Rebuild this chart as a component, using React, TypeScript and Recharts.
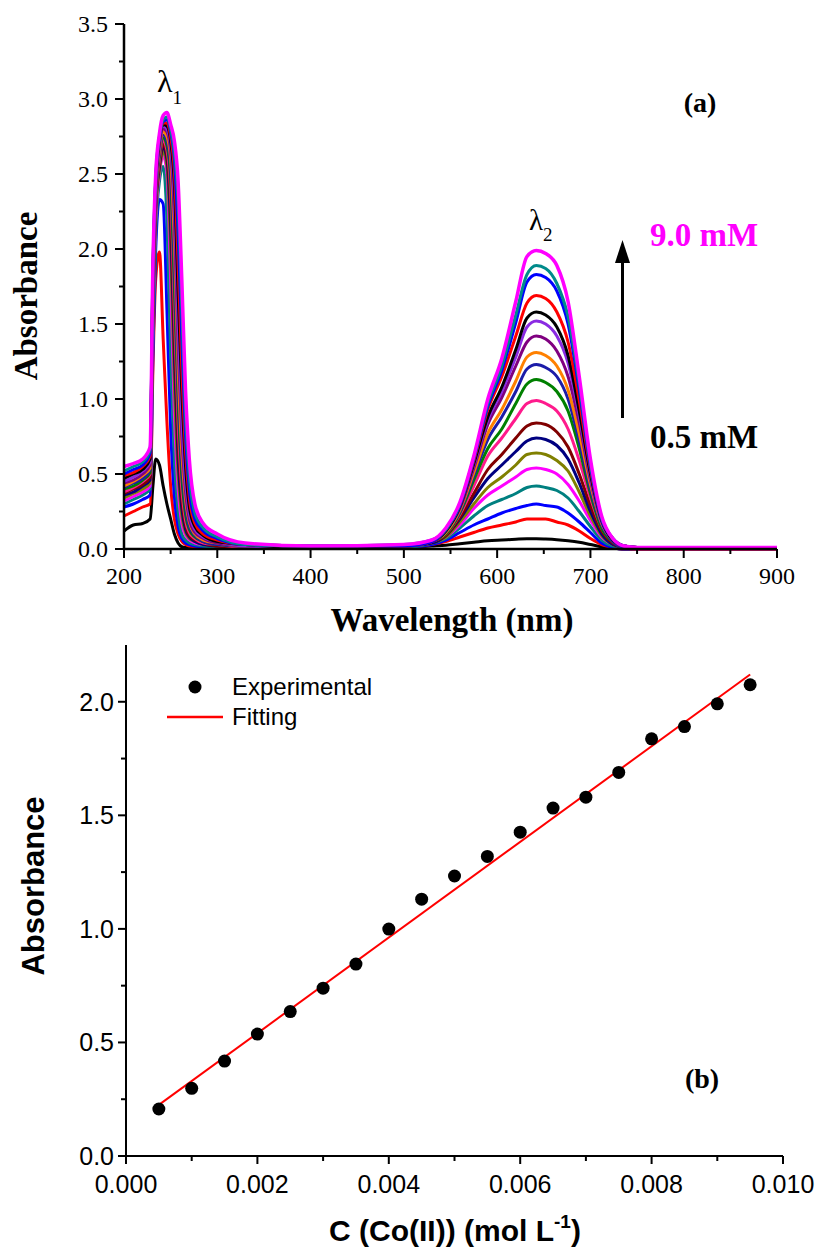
import React from 'react';
import { LineChart, Line, XAxis, YAxis, ScatterChart, Scatter } from 'recharts';

// ─── Panel (a): UV-Vis spectra ───────────────────────────────────────────────

const wavelengths = [
  200, 210, 220, 228, 231, 234, 238, 242, 246, 250, 254, 258, 262, 266, 270, 276, 285, 300, 330, 400, 500,
  530, 545, 560, 575, 590, 605, 620, 632, 642, 652, 664, 676, 688, 700, 712, 724, 736, 750, 800, 900,
];

// one array per Co(II) concentration, lowest first
const curve01 = [0.12, 0.16, 0.17, 0.2, 0.42, 0.6, 0.56, 0.42, 0.3, 0.2, 0.1, 0.04, 0.015, 0.01, 0.01, 0.01, 0.01, 0.01, 0.01, 0.01, 0.01,
  0.02, 0.025, 0.035, 0.045, 0.055, 0.06, 0.065, 0.068, 0.068, 0.066, 0.062, 0.055, 0.045, 0.03, 0.015, 0.005, 0, 0, 0, 0];
const curve02 = [0.22, 0.25, 0.28, 0.3, 1.2, 1.8, 1.98, 1.4, 0.85, 0.42, 0.2, 0.1, 0.05, 0.03, 0.02, 0.015, 0.01, 0.01, 0.01, 0.01, 0.01,
  0.03, 0.05, 0.08, 0.11, 0.14, 0.16, 0.18, 0.2, 0.2, 0.2, 0.18, 0.16, 0.12, 0.07, 0.03, 0.01, 0, 0, 0, 0];
const curve03 = [0.28, 0.3, 0.33, 0.36, 1.3, 2.0, 2.33, 2.3, 1.6, 0.8, 0.35, 0.15, 0.07, 0.04, 0.03, 0.02, 0.01, 0.01, 0.01, 0.01, 0.01,
  0.03, 0.06, 0.11, 0.16, 0.2, 0.24, 0.27, 0.29, 0.3, 0.29, 0.28, 0.24, 0.18, 0.11, 0.04, 0.01, 0, 0, 0, 0];
const curve04 = [0.3, 0.33, 0.36, 0.4, 1.4, 2.1, 2.45, 2.55, 2.2, 1.3, 0.6, 0.25, 0.1, 0.06, 0.04, 0.03, 0.02, 0.01, 0.01, 0.01, 0.01,
  0.04, 0.07, 0.14, 0.22, 0.29, 0.33, 0.37, 0.41, 0.42, 0.41, 0.39, 0.34, 0.25, 0.15, 0.06, 0.02, 0.01, 0, 0, 0];
const curve05 = [0.32, 0.35, 0.38, 0.42, 1.5, 2.2, 2.5, 2.62, 2.5, 1.8, 0.9, 0.4, 0.17, 0.09, 0.06, 0.04, 0.03, 0.02, 0.01, 0.01, 0.02,
  0.04, 0.08, 0.16, 0.27, 0.36, 0.42, 0.48, 0.53, 0.54, 0.53, 0.5, 0.43, 0.32, 0.19, 0.08, 0.03, 0.01, 0, 0, 0];
const curve06 = [0.34, 0.37, 0.4, 0.44, 1.55, 2.25, 2.52, 2.65, 2.55, 2.0, 1.1, 0.5, 0.22, 0.11, 0.07, 0.05, 0.03, 0.02, 0.01, 0.01, 0.02,
  0.04, 0.08, 0.18, 0.3, 0.41, 0.48, 0.56, 0.63, 0.64, 0.63, 0.59, 0.52, 0.38, 0.22, 0.09, 0.03, 0.01, 0, 0, 0];
const curve07 = [0.36, 0.38, 0.42, 0.46, 1.6, 2.28, 2.55, 2.68, 2.6, 2.15, 1.3, 0.6, 0.27, 0.13, 0.08, 0.05, 0.03, 0.02, 0.01, 0.01, 0.02,
  0.04, 0.09, 0.2, 0.34, 0.47, 0.56, 0.65, 0.72, 0.74, 0.73, 0.69, 0.6, 0.44, 0.25, 0.1, 0.03, 0.01, 0, 0, 0];
const curve08 = [0.37, 0.4, 0.43, 0.48, 1.62, 2.3, 2.57, 2.7, 2.63, 2.28, 1.45, 0.72, 0.33, 0.16, 0.09, 0.06, 0.04, 0.02, 0.01, 0.01, 0.02,
  0.05, 0.09, 0.21, 0.37, 0.53, 0.63, 0.74, 0.82, 0.84, 0.83, 0.78, 0.68, 0.5, 0.29, 0.12, 0.04, 0.01, 0, 0, 0];
const curve09 = [0.38, 0.41, 0.45, 0.5, 1.65, 2.32, 2.6, 2.72, 2.66, 2.38, 1.6, 0.85, 0.4, 0.19, 0.11, 0.07, 0.04, 0.03, 0.01, 0.01, 0.02,
  0.05, 0.1, 0.23, 0.42, 0.62, 0.74, 0.87, 0.97, 0.99, 0.97, 0.92, 0.8, 0.59, 0.34, 0.14, 0.05, 0.01, 0, 0, 0];
const curve10 = [0.4, 0.42, 0.46, 0.51, 1.68, 2.35, 2.62, 2.74, 2.69, 2.46, 1.75, 0.98, 0.48, 0.23, 0.13, 0.08, 0.05, 0.03, 0.02, 0.01, 0.02,
  0.05, 0.1, 0.24, 0.46, 0.67, 0.8, 0.97, 1.1, 1.13, 1.11, 1.05, 0.92, 0.67, 0.37, 0.14, 0.05, 0.01, 0.01, 0.01, 0.01];
const curve11 = [0.41, 0.44, 0.47, 0.53, 1.7, 2.37, 2.64, 2.76, 2.72, 2.53, 1.9, 1.1, 0.56, 0.28, 0.15, 0.09, 0.05, 0.03, 0.02, 0.01, 0.02,
  0.05, 0.11, 0.25, 0.49, 0.73, 0.88, 1.05, 1.2, 1.23, 1.21, 1.15, 1.0, 0.72, 0.4, 0.16, 0.05, 0.01, 0.01, 0.01, 0.01];
const curve12 = [0.42, 0.45, 0.49, 0.54, 1.72, 2.39, 2.66, 2.78, 2.75, 2.6, 2.05, 1.22, 0.64, 0.33, 0.18, 0.1, 0.06, 0.04, 0.02, 0.01, 0.02,
  0.05, 0.11, 0.26, 0.51, 0.77, 0.93, 1.12, 1.28, 1.31, 1.29, 1.22, 1.06, 0.77, 0.43, 0.17, 0.06, 0.02, 0.01, 0.01, 0.01];
const curve13 = [0.44, 0.46, 0.5, 0.56, 1.75, 2.4, 2.68, 2.8, 2.78, 2.65, 2.2, 1.35, 0.75, 0.38, 0.2, 0.11, 0.07, 0.04, 0.02, 0.01, 0.02,
  0.05, 0.12, 0.27, 0.54, 0.83, 1.01, 1.22, 1.38, 1.42, 1.4, 1.32, 1.15, 0.84, 0.46, 0.18, 0.06, 0.02, 0.01, 0.01, 0.01];
const curve14 = [0.45, 0.48, 0.52, 0.58, 1.78, 2.42, 2.7, 2.82, 2.8, 2.69, 2.33, 1.5, 0.88, 0.45, 0.24, 0.13, 0.08, 0.05, 0.02, 0.01, 0.02,
  0.05, 0.12, 0.28, 0.56, 0.86, 1.05, 1.28, 1.48, 1.52, 1.5, 1.42, 1.24, 0.89, 0.48, 0.18, 0.06, 0.02, 0.01, 0.01, 0.01];
const curve15 = [0.47, 0.5, 0.53, 0.6, 1.8, 2.43, 2.72, 2.83, 2.82, 2.72, 2.43, 1.7, 1.05, 0.55, 0.28, 0.15, 0.09, 0.05, 0.03, 0.01, 0.02,
  0.05, 0.12, 0.28, 0.57, 0.88, 1.08, 1.33, 1.54, 1.58, 1.56, 1.48, 1.29, 0.92, 0.5, 0.19, 0.06, 0.02, 0.01, 0.01, 0.01];
const curve16 = [0.49, 0.51, 0.55, 0.62, 1.82, 2.45, 2.73, 2.84, 2.84, 2.75, 2.52, 1.9, 1.2, 0.65, 0.34, 0.17, 0.1, 0.06, 0.03, 0.02, 0.02,
  0.05, 0.13, 0.29, 0.59, 0.93, 1.15, 1.42, 1.64, 1.69, 1.67, 1.58, 1.38, 0.99, 0.53, 0.2, 0.07, 0.02, 0.01, 0.01, 0.01];
const curve17 = [0.5, 0.53, 0.56, 0.64, 1.85, 2.46, 2.74, 2.85, 2.86, 2.78, 2.6, 2.1, 1.4, 0.75, 0.4, 0.2, 0.12, 0.07, 0.03, 0.02, 0.02,
  0.05, 0.13, 0.29, 0.6, 0.95, 1.19, 1.51, 1.78, 1.83, 1.81, 1.72, 1.5, 1.06, 0.55, 0.2, 0.07, 0.02, 0.01, 0.01, 0.01];
const curve18 = [0.52, 0.55, 0.58, 0.66, 1.87, 2.48, 2.75, 2.86, 2.88, 2.8, 2.65, 2.3, 1.6, 0.88, 0.48, 0.24, 0.14, 0.08, 0.03, 0.02, 0.03,
  0.06, 0.13, 0.3, 0.61, 0.97, 1.22, 1.56, 1.83, 1.89, 1.87, 1.77, 1.55, 1.1, 0.57, 0.21, 0.07, 0.02, 0.01, 0.01, 0.01];
const curve19 = [0.55, 0.57, 0.6, 0.68, 1.9, 2.5, 2.77, 2.89, 2.91, 2.83, 2.72, 2.45, 1.79, 1.05, 0.6, 0.3, 0.17, 0.1, 0.04, 0.02, 0.03,
  0.06, 0.14, 0.31, 0.62, 1.0, 1.27, 1.65, 1.95, 1.99, 1.97, 1.89, 1.65, 1.15, 0.6, 0.22, 0.07, 0.02, 0.01, 0.01, 0.01];

const spectra = [
  curve01, curve02, curve03, curve04, curve05, curve06, curve07, curve08, curve09, curve10,
  curve11, curve12, curve13, curve14, curve15, curve16, curve17, curve18, curve19,
];

const curveColors = [
  '#000000', '#ff0000', '#0000ff', '#008080', '#ff00ff', '#808000', '#000080', '#800000', '#ff1a8c', '#008000',
  '#1c1ca8', '#ff8000', '#800080', '#8a2be2', '#000000', '#ff0000', '#0000ff', '#008b8b', '#ff00ff',
];

const waveTicks = [200, 250, 300, 350, 400, 450, 500, 550, 600, 650, 700, 750, 800, 850, 900];
const absTicksA = [0, 0.25, 0.5, 0.75, 1, 1.25, 1.5, 1.75, 2, 2.25, 2.5, 2.75, 3, 3.25, 3.5];

// ─── Panel (b): calibration ──────────────────────────────────────────────────

const concentration = [
  0.0005, 0.001, 0.0015, 0.002, 0.0025, 0.003, 0.0035, 0.004, 0.0045, 0.005,
  0.0055, 0.006, 0.0065, 0.007, 0.0075, 0.008, 0.0085, 0.009, 0.0095,
];
const measuredAbs = [
  0.207, 0.298, 0.418, 0.537, 0.636, 0.739, 0.845, 0.999, 1.131, 1.233,
  1.319, 1.426, 1.532, 1.58, 1.689, 1.837, 1.891, 1.991, 2.075,
];
const fitConc = [0.0005, 0.0095];
const fitAbs = [0.225, 2.12];

const concTicks = [0, 0.001, 0.002, 0.003, 0.004, 0.005, 0.006, 0.007, 0.008, 0.009, 0.01];
const absTicksB = [0, 0.25, 0.5, 0.75, 1, 1.25, 1.5, 1.75, 2];

// ─── Derived tables ──────────────────────────────────────────────────────────

const spectrumRows = wavelengths.map((wl, i) => {
  const row: Record<string, number> = { wl };
  spectra.forEach((s, k) => { row[`c${k}`] = s[i]; });
  return row;
});
const expPoints = concentration.map((x, i) => ({ x, y: measuredAbs[i] }));
const fitPoints = fitConc.map((x, i) => ({ x, y: fitAbs[i] }));

const SERIF = '"Liberation Serif", "Times New Roman", serif';
const SANS = '"Liberation Sans", Arial, sans-serif';

const isMult = (v: number, step: number) => Math.abs(v / step - Math.round(v / step)) < 1e-6;

// ─── Tick renderers (axis tick size 0, so x/y sit on the axis line) ─────────

// eslint-disable-next-line @typescript-eslint/no-explicit-any
function WaveTick({ x, y, payload }: any) {
  const major = isMult(payload.value, 100);
  return (
    <g>
      <line x1={x} x2={x} y1={y} y2={y + (major ? 9 : 5)} stroke="#000" strokeWidth={2} />
      {major && (
        <text x={x} y={y + 35} textAnchor="middle" fill="#000" style={{ fontFamily: SERIF, fontSize: 24 }}>
          {payload.value}
        </text>
      )}
    </g>
  );
}

// eslint-disable-next-line @typescript-eslint/no-explicit-any
function AbsTickA({ x, y, payload }: any) {
  const major = isMult(payload.value, 0.5);
  return (
    <g>
      <line x1={x - (major ? 9 : 5)} x2={x} y1={y} y2={y} stroke="#000" strokeWidth={2} />
      {major && (
        <text x={x - 16} y={y} dy="0.35em" textAnchor="end" fill="#000" style={{ fontFamily: SERIF, fontSize: 24 }}>
          {payload.value.toFixed(1)}
        </text>
      )}
    </g>
  );
}

// eslint-disable-next-line @typescript-eslint/no-explicit-any
function TopTickA({ x, y, payload }: any) {
  const major = isMult(payload.value, 100);
  return <line x1={x} x2={x} y1={y} y2={y - (major ? 6 : 3)} stroke="#000" strokeWidth={1.5} />;
}

// eslint-disable-next-line @typescript-eslint/no-explicit-any
function ConcTick({ x, y, payload }: any) {
  const major = isMult(payload.value, 0.002);
  return (
    <g>
      <line x1={x} x2={x} y1={y} y2={y + (major ? 8 : 5)} stroke="#000" strokeWidth={2} />
      {major && (
        <text x={x} y={y + 37} textAnchor="middle" fill="#000" style={{ fontFamily: SANS, fontSize: 25 }}>
          {payload.value.toFixed(3)}
        </text>
      )}
    </g>
  );
}

// eslint-disable-next-line @typescript-eslint/no-explicit-any
function AbsTickB({ x, y, payload }: any) {
  const major = isMult(payload.value, 0.5);
  return (
    <g>
      <line x1={x - (major ? 8 : 5)} x2={x} y1={y} y2={y} stroke="#000" strokeWidth={2} />
      {major && (
        <text x={x - 12} y={y} dy="0.35em" textAnchor="end" fill="#000" style={{ fontFamily: SANS, fontSize: 25 }}>
          {payload.value.toFixed(1)}
        </text>
      )}
    </g>
  );
}

// eslint-disable-next-line @typescript-eslint/no-explicit-any
function TopTickB({ x, y }: any) {
  return <line x1={x} x2={x} y1={y} y2={y + 4} stroke="#000" strokeWidth={1.5} />;
}

// eslint-disable-next-line @typescript-eslint/no-explicit-any
function Dot({ cx, cy }: any) {
  return <circle cx={cx} cy={cy} r={6.5} fill="#000" />;
}

function NoShape() {
  return <g />;
}

// ─── Component ───────────────────────────────────────────────────────────────

export default function App() {
  const axisA = { stroke: '#000', strokeWidth: 2.5 };
  const axisB = { stroke: '#000', strokeWidth: 2 };

  return (
    <div style={{ position: 'absolute', left: 0, top: 0, width: 815, height: 1248, background: '#fff' }}>
      {/* (a) spectra */}
      <div style={{ position: 'absolute', left: 0, top: 0 }}>
        <LineChart width={815} height={601} data={spectrumRows} margin={{ top: 24, right: 38, bottom: 0, left: 0 }}>
          <XAxis dataKey="wl" type="number" domain={[200, 900]} ticks={waveTicks} interval={0}
            height={52} tickSize={0} tickMargin={0} tickLine={false} axisLine={axisA} tick={<WaveTick />} />
          <XAxis xAxisId="top" orientation="top" dataKey="wl" type="number" domain={[200, 900]} ticks={waveTicks}
            interval={0} height={0} tickSize={0} tickMargin={0} tickLine={false} axisLine={axisA} tick={<TopTickA />} />
          <YAxis type="number" domain={[0, 3.5]} ticks={absTicksA} interval={0} width={124}
            tickSize={0} tickMargin={0} tickLine={false} axisLine={axisA} tick={<AbsTickA />} />
          <YAxis yAxisId="right" orientation="right" type="number" domain={[0, 3.5]} width={0}
            tick={false} tickLine={false} axisLine={axisA} />
          {spectra.map((_, k) => (
            <Line key={k} dataKey={`c${k}`} type="monotone" stroke={curveColors[k]}
              strokeWidth={k === spectra.length - 1 ? 3.5 : 3} dot={false} activeDot={false}
              isAnimationActive={false} />
          ))}
        </LineChart>
      </div>

      {/* (b) calibration */}
      <div style={{ position: 'absolute', left: 0, top: 600 }}>
        <ScatterChart width={815} height={648} margin={{ top: 45, right: 32, bottom: 32, left: 0 }}>
          <XAxis dataKey="x" type="number" domain={[0, 0.01]} ticks={concTicks} interval={0}
            height={60} tickSize={0} tickMargin={0} tickLine={false} axisLine={axisB} tick={<ConcTick />} />
          <XAxis xAxisId="top" orientation="top" dataKey="x" type="number" domain={[0, 0.01]} ticks={concTicks}
            interval={0} height={0} tickSize={0} tickMargin={0} tickLine={false} axisLine={axisB} tick={<TopTickB />} />
          <YAxis dataKey="y" type="number" domain={[0, 2.25]} ticks={absTicksB} interval={0} width={126}
            tickSize={0} tickMargin={0} tickLine={false} axisLine={axisB} tick={<AbsTickB />} />
          <YAxis yAxisId="right" orientation="right" dataKey="y" type="number" domain={[0, 2.25]} width={0}
            tick={false} tickLine={false} axisLine={axisB} />
          <Scatter data={fitPoints} line={{ stroke: '#ff0000', strokeWidth: 2 }} shape={<NoShape />}
            isAnimationActive={false} />
          <Scatter data={expPoints} shape={<Dot />} isAnimationActive={false} />
        </ScatterChart>
      </div>

      {/* titles and annotations */}
      <svg width={815} height={1248} style={{ position: 'absolute', left: 0, top: 0, pointerEvents: 'none' }}>
        <text x={37} y={296} transform="rotate(-90 37 296)" textAnchor="middle" fontFamily={SERIF}
          fontWeight="bold" fontSize={33} fill="#000">Absorbance</text>
        <text x={452} y={631} textAnchor="middle" fontFamily={SERIF} fontWeight="bold" fontSize={33}
          fill="#000">Wavelength (nm)</text>

        <text x={157} y={92} fontFamily={SERIF} fontSize={32} fill="#000">
          λ<tspan fontSize={19} dy={12}>1</tspan>
        </text>
        <text x={529} y={230} fontFamily={SERIF} fontSize={29} fill="#000">
          λ<tspan fontSize={19} dy={11}>2</tspan>
        </text>
        <text x={700} y={112} textAnchor="middle" fontFamily={SERIF} fontWeight="bold" fontSize={28}
          fill="#000">(a)</text>
        <text x={650} y={246} fontFamily={SERIF} fontWeight="bold" fontSize={33} fill="#ff00ff">9.0 mM</text>
        <text x={650} y={448} fontFamily={SERIF} fontWeight="bold" fontSize={33} fill="#000">0.5 mM</text>
        <line x1={622.5} x2={622.5} y1={418} y2={258} stroke="#000" strokeWidth={3} />
        <polygon points="615,263 630,263 622.5,240" fill="#000" />

        <text x={44} y={886} transform="rotate(-90 44 886)" textAnchor="middle" fontFamily={SANS}
          fontWeight="bold" fontSize={31} fill="#000">Absorbance</text>
        <text x={455} y={1241} textAnchor="middle" fontFamily={SANS} fontWeight="bold" fontSize={30} fill="#000">
          C (Co(II)) (mol L<tspan fontSize={19} dy={-13}>-1</tspan><tspan dy={13}>)</tspan>
        </text>

        <circle cx={195} cy={687} r={6.5} fill="#000" />
        <text x={232} y={695} fontFamily={SANS} fontSize={24} fill="#000">Experimental</text>
        <line x1={167} x2={223} y1={717} y2={717} stroke="#ff0000" strokeWidth={2.5} />
        <text x={232} y={725} fontFamily={SANS} fontSize={24} fill="#000">Fitting</text>
        <text x={702} y={1088} textAnchor="middle" fontFamily={SERIF} fontWeight="bold" fontSize={28}
          fill="#000">(b)</text>
      </svg>
    </div>
  );
}
